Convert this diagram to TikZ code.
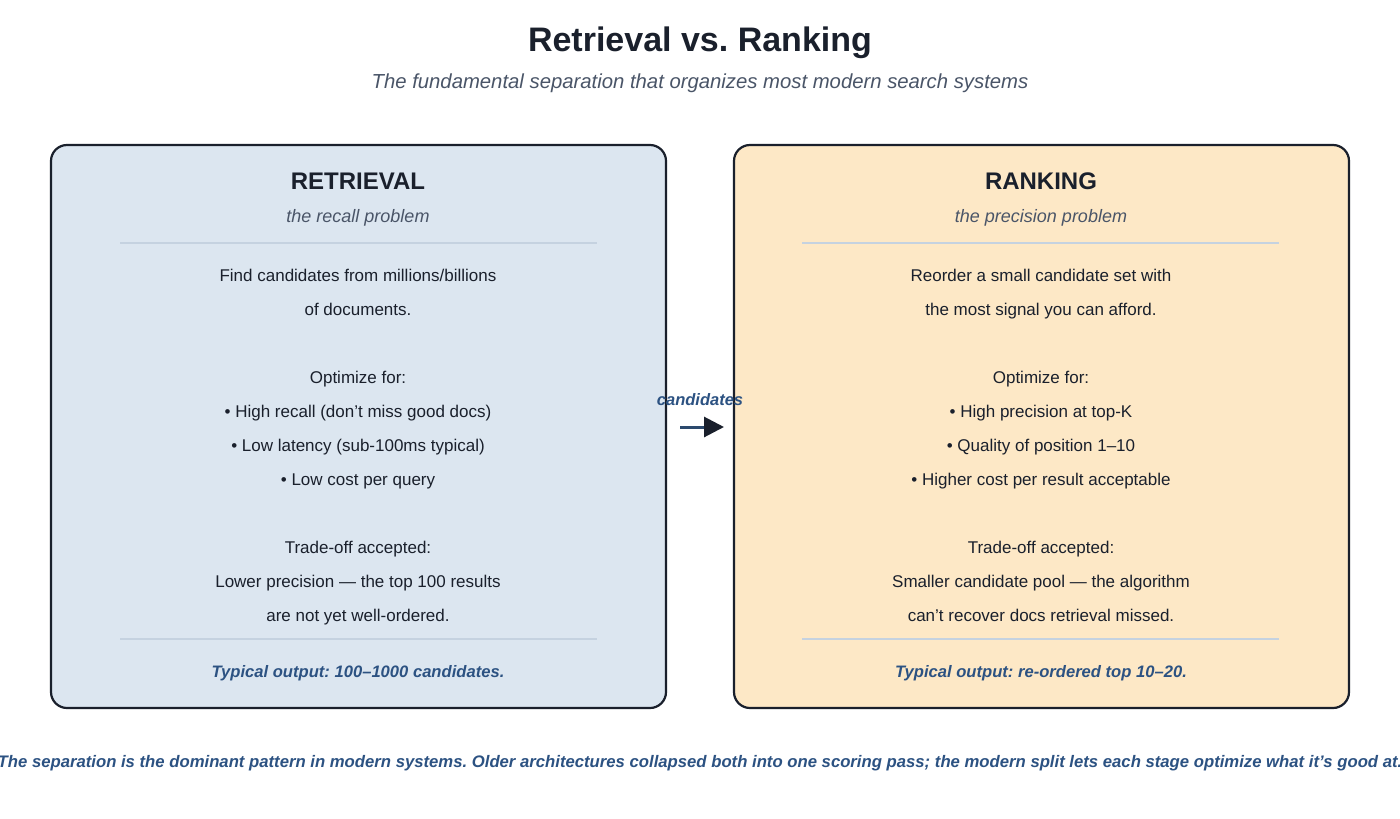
\documentclass[tikz,border=0pt]{standalone}
\usepackage{fontspec}
\setmainfont{Liberation Sans}
\usetikzlibrary{arrows.meta}
\frenchspacing
\definecolor{ink}{HTML}{1A202C}
\definecolor{subgray}{HTML}{4A5568}
\definecolor{accent}{HTML}{2C5282}
\definecolor{shaft}{HTML}{2C4A6E}
\definecolor{retfill}{HTML}{DCE6F0}
\definecolor{rankfill}{HTML}{FDE8C6}
\definecolor{rule}{HTML}{C5D2E0}
\tikzset{
  fs/.style={font=\fontsize{#1}{#1}\selectfont},
  panel/.style={draw=ink, line width=2.2pt, rounded corners=16pt, minimum width=615pt, minimum height=563pt, inner sep=0pt},
  txt/.style={anchor=base, inner sep=0pt, text=ink, fs=17},
  head/.style={anchor=base, inner sep=0pt, text=ink, font=\fontsize{24}{24}\selectfont\bfseries},
  subhead/.style={anchor=base, inner sep=0pt, text=subgray, font=\fontsize{18}{18}\selectfont\itshape},
  foot/.style={anchor=base, inner sep=0pt, text=accent, font=\fontsize{16.6}{16.6}\selectfont\bfseries\itshape},
  divider/.style={draw=rule, line width=2pt},
}
\begin{document}
\begin{tikzpicture}[x=1pt,y=-1pt]
\useasboundingbox[fill=white] (0,0) rectangle (1400,819);
% title
\node[anchor=base, inner sep=0pt, text=ink, font=\fontsize{34}{34}\selectfont\bfseries\frenchspacing] (title) at (700,51.5) {Retrieval vs. Ranking};
\node[anchor=base, inner sep=0pt, text=subgray, font=\fontsize{20.3}{20.3}\selectfont\itshape] (subtitle) at (700,88) {The fundamental separation that organizes most modern search systems};
% panels
\node[panel, fill=retfill] (ret) at (358.5,426.5) {};
\node[panel, fill=rankfill] (rank) at (1041.5,426.5) {};
% left content
\node[head] (rh) at (358,189.5) {RETRIEVAL};
\node[subhead] (rs) at (358,222) {the recall problem};
\draw[divider] (120,243) -- (597,243);
\node[txt] (l1) at (358,281.7) {Find candidates from millions/billions};
\node[txt] (l2) at (358,315.7) {of documents.};
\node[txt] (l3) at (358,383.7) {Optimize for:};
\node[txt] (l4) at (358,417.7) {• High recall (don’t miss good docs)};
\node[txt] (l5) at (358,451.7) {• Low latency (sub-100ms typical)};
\node[txt] (l6) at (358,485.7) {• Low cost per query};
\node[txt] (l7) at (358,553.7) {Trade-off accepted:};
\node[txt] (l8) at (358,587.7) {Lower precision — the top 100 results};
\node[txt] (l9) at (358,621.7) {are not yet well-ordered.};
\draw[divider] (120,639) -- (597,639);
\node[foot] (lf) at (358,677) {Typical output: 100–1000 candidates.};
% right content
\node[head] (kh) at (1041,189.5) {RANKING};
\node[subhead] (ks) at (1041,222) {the precision problem};
\draw[divider] (802,243) -- (1279,243);
\node[txt] (r1) at (1041,281.7) {Reorder a small candidate set with};
\node[txt] (r2) at (1041,315.7) {the most signal you can afford.};
\node[txt] (r3) at (1041,383.7) {Optimize for:};
\node[txt] (r4) at (1041,417.7) {• High precision at top-K};
\node[txt] (r5) at (1041,451.7) {• Quality of position 1–10};
\node[txt] (r6) at (1041,485.7) {• Higher cost per result acceptable};
\node[txt] (r7) at (1041,553.7) {Trade-off accepted:};
\node[txt] (r8) at (1041,587.7) {Smaller candidate pool — the algorithm};
\node[txt] (r9) at (1041,621.7) {can’t recover docs retrieval missed.};
\draw[divider] (802,639) -- (1279,639);
\node[foot] (rf) at (1041,677) {Typical output: re-ordered top 10–20.};
% connector
\coordinate (as) at (680,427);
\coordinate (ae) at (724,427);
\node[anchor=base, inner sep=0pt, text=accent, font=\fontsize{16.5}{16.5}\selectfont\bfseries\itshape] (cand) at (700,405.5) {candidates};
\draw[shaft, line width=3pt, -{Triangle[length=20pt,width=20pt,color=ink,fill=ink]}] (as) -- (ae);
% bottom note
\node[foot, font=\fontsize{16.7}{16.7}\selectfont\bfseries\itshape] (note) at (700,767.5) {The separation is the dominant pattern in modern systems. Older architectures collapsed both into one scoring pass; the modern split lets each stage optimize what it’s good at.};
\end{tikzpicture}
\end{document}
